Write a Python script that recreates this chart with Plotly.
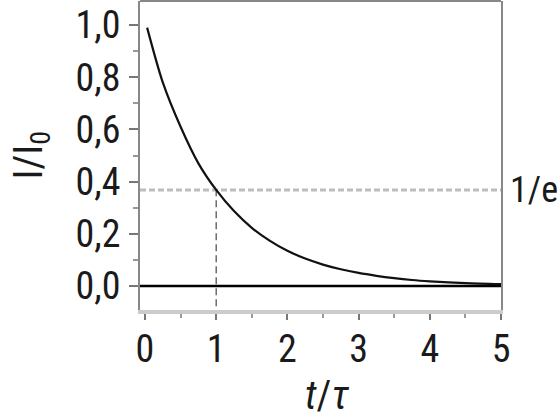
import plotly.graph_objects as go

# ==========================================
# DATA
# ==========================================

t_tau = [0.03, 0.25, 0.5, 0.75, 1.0, 1.25, 1.5, 1.75, 2.0, 2.25, 2.5, 2.75,
         3.0, 3.25, 3.5, 3.75, 4.0, 4.5, 5.0]
intensity = [0.99, 0.78, 0.61, 0.47, 0.368, 0.287, 0.223, 0.174, 0.135, 0.105,
             0.082, 0.064, 0.05, 0.039, 0.03, 0.023, 0.018, 0.011, 0.007]

inv_e = 0.368
x_ticks = [0, 1, 2, 3, 4, 5]
y_ticks = [0.0, 0.2, 0.4, 0.6, 0.8, 1.0]

FONT = "Roboto Condensed"
SIZE = 38

fig = go.Figure()

# zero line
fig.add_trace(
    go.Scatter(
        x=[-0.07, 5],
        y=[0, 0],
        mode="lines",
        line=dict(color="black", width=2.5),
        hoverinfo="skip"
    )
)

# 1/e level
fig.add_trace(
    go.Scatter(
        x=[-0.07, 5],
        y=[inv_e, inv_e],
        mode="lines",
        line=dict(color="#bdbdbd", width=3, dash="6px,3px"),
        hoverinfo="skip"
    )
)

# t = tau marker
fig.add_trace(
    go.Scatter(
        x=[1, 1],
        y=[-0.12, inv_e],
        mode="lines",
        line=dict(color="#555555", width=1.3, dash="7px,4px"),
        cliponaxis=False,
        hoverinfo="skip"
    )
)

# decay curve
fig.add_trace(
    go.Scatter(
        x=t_tau,
        y=intensity,
        mode="lines",
        line=dict(color="#111111", width=2.2, shape="spline", smoothing=0.8)
    )
)

fig.update_layout(
    width=560,
    height=419,
    margin=dict(l=140, r=59, t=1, b=109, autoexpand=False),
    paper_bgcolor="white",
    plot_bgcolor="white",
    showlegend=False,
    separators=",.",
    font=dict(family=FONT, size=SIZE, color="#1a1a1a"),
    xaxis=dict(
        automargin=False,
        range=[-0.07, 5],
        tickvals=x_ticks,
        ticks="outside",
        ticklen=6,
        tickwidth=1.5,
        tickcolor="#777777",
        minor=dict(dtick=0.5, ticks="outside", ticklen=4, tickcolor="#999999"),
        showline=True,
        linecolor="#cccccc",
        linewidth=4,
        showgrid=False,
        zeroline=False,
        tickfont=dict(size=SIZE),
        ticklabelstandoff=-4
    ),
    yaxis=dict(
        automargin=False,
        range=[-0.092, 1.092],
        tickvals=y_ticks,
        tickformat=".1f",
        ticks="outside",
        ticklen=9,
        tickwidth=1.5,
        tickcolor="#777777",
        minor=dict(dtick=0.1, ticks="outside", ticklen=5, tickcolor="#999999"),
        showline=True,
        linecolor="#888888",
        linewidth=2,
        mirror=True,
        showgrid=False,
        zeroline=False,
        tickfont=dict(size=SIZE),
        ticklabelstandoff=1
    ),
    shapes=[
        dict(
            type="line",
            xref="x domain",
            yref="y domain",
            x0=0, x1=1, y0=1, y1=1,
            line=dict(color="#888888", width=2)
        )
    ],
    annotations=[
        dict(
            text="1/e",
            xref="x domain",
            yref="y",
            x=1,
            y=inv_e,
            xanchor="left",
            yanchor="middle",
            xshift=7,
            showarrow=False,
            font=dict(size=36)
        ),
        # y title
        dict(
            text="I/I<sub>0</sub>",
            xref="x domain",
            yref="y domain",
            x=0,
            y=0.5,
            xanchor="center",
            yanchor="middle",
            xshift=-110,
            textangle=-90,
            showarrow=False,
            font=dict(size=40)
        ),
        # x title
        dict(
            text="<i>t</i>/<i>τ</i>",
            xref="x domain",
            yref="paper",
            x=0.5,
            y=0,
            xanchor="center",
            yanchor="middle",
            xshift=6,
            yshift=-85,
            showarrow=False,
            font=dict(size=40)
        )
    ]
)

# page body margin would shift the figure by 8px
fig.write_html(
    "out.html",
    config={"displayModeBar": False},
    post_script="document.body.style.margin='0';"
)
